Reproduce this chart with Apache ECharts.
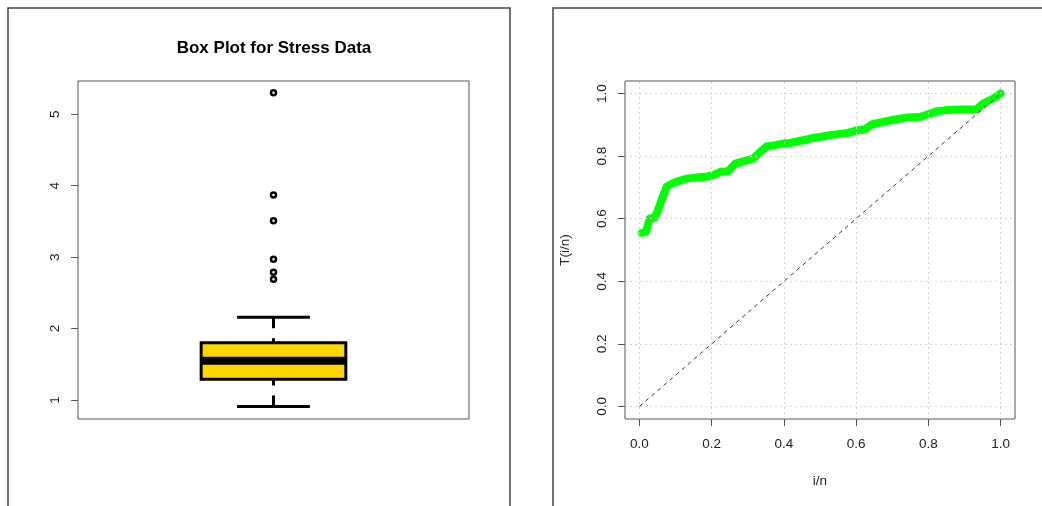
<!DOCTYPE html>
<html>
<head>
<meta charset="utf-8">
<script src="https://cdn.jsdelivr.net/npm/echarts@6/dist/echarts.min.js"></script>
<style>
  html, body { margin: 0; padding: 0; background: #fff; }
  #chart-panel { width: 1042px; height: 506px; }
</style>
</head>
<body>
<div id="chart-panel"></div>
<script>
// box plot: stress data summary (min, q1, median, q3, max) and outliers
var boxStats = [0.91, 1.29, 1.55, 1.80, 2.16];
var outliers = [2.69, 2.79, 2.97, 3.51, 3.87, 5.30];
var boxTicks = [1, 2, 3, 4, 5];

// TTT plot: i/n and T(i/n)
var tttX = [0.007, 0.018, 0.028, 0.043, 0.055, 0.065, 0.076, 0.094, 0.113, 0.131,
            0.159, 0.177, 0.205, 0.223, 0.246, 0.265, 0.288, 0.315, 0.334, 0.352,
            0.375, 0.398, 0.417, 0.463, 0.482, 0.500, 0.528, 0.555, 0.578, 0.601,
            0.625, 0.643, 0.675, 0.712, 0.740, 0.777, 0.797, 0.823, 0.851, 0.887,
            0.934, 0.952, 0.980, 1.000];
var tttY = [0.555, 0.558, 0.600, 0.604, 0.639, 0.672, 0.703, 0.714, 0.722, 0.728,
            0.732, 0.733, 0.739, 0.749, 0.752, 0.776, 0.783, 0.792, 0.813, 0.831,
            0.835, 0.840, 0.842, 0.853, 0.858, 0.861, 0.867, 0.871, 0.874, 0.882,
            0.886, 0.901, 0.909, 0.918, 0.923, 0.925, 0.933, 0.943, 0.947, 0.949,
            0.950, 0.968, 0.984, 1.000];
var refX = [0, 1];
var refY = [0, 1];
var tttTicks = [0, 0.2, 0.4, 0.6, 0.8, 1.0];

var font = 'Liberation Sans, Arial, sans-serif';

var tttData = tttX.map(function (x, i) { return [x, tttY[i]]; });
var refData = refX.map(function (x, i) { return [x, refY[i]]; });

function renderBox(params, api) {
    var x = api.value(0);
    var lo = api.value(1), q1 = api.value(2), med = api.value(3), q3 = api.value(4), hi = api.value(5);
    var bw = 0.185, cw = 0.093;
    var p = function (a, b) { return api.coord([a, b]); };
    var tl = p(x - bw, q3), br = p(x + bw, q1);
    var dash = { stroke: '#000', lineWidth: 3, lineDash: [11, 10] };
    var solid = { stroke: '#000', lineWidth: 3 };
    return {
        type: 'group',
        children: [
            { type: 'line', shape: { x1: p(x, hi)[0], y1: p(x, hi)[1], x2: p(x, q3)[0], y2: p(x, q3)[1] }, style: dash },
            { type: 'line', shape: { x1: p(x, lo)[0], y1: p(x, lo)[1], x2: p(x, q1)[0], y2: p(x, q1)[1] }, style: dash },
            { type: 'line', shape: { x1: p(x - cw, hi)[0], y1: p(x, hi)[1], x2: p(x + cw, hi)[0], y2: p(x, hi)[1] }, style: solid },
            { type: 'line', shape: { x1: p(x - cw, lo)[0], y1: p(x, lo)[1], x2: p(x + cw, lo)[0], y2: p(x, lo)[1] }, style: solid },
            { type: 'rect', shape: { x: tl[0], y: tl[1], width: br[0] - tl[0], height: br[1] - tl[1] },
              style: { fill: '#FFD700', stroke: '#000', lineWidth: 3 } },
            { type: 'line', shape: { x1: tl[0] + 1, y1: p(x, med)[1], x2: br[0] - 1, y2: p(x, med)[1] },
              style: { stroke: '#000', lineWidth: 8 } }
        ]
    };
}

var labelStyle = { fontFamily: font, fontSize: 13.5, color: '#222' };

option = {
    animation: false,
    backgroundColor: '#fff',
    graphic: [
        { type: 'rect', shape: { x: 8, y: 8, width: 502, height: 600 }, style: { fill: null, stroke: '#444', lineWidth: 1.5 }, silent: true },
        { type: 'rect', shape: { x: 553, y: 8, width: 600, height: 600 }, style: { fill: null, stroke: '#444', lineWidth: 1.5 }, silent: true },
        { type: 'text', x: 274, y: 48, silent: true,
          style: { text: 'Box Plot for Stress Data', fill: '#000', align: 'center', verticalAlign: 'middle',
                   font: 'bold 17px Liberation Sans, Arial, sans-serif' } }
    ],
    grid: [
        { left: 78, top: 81, width: 391, height: 338, show: true, borderColor: '#555', borderWidth: 1 },
        { left: 625, top: 81, width: 390, height: 338, show: true, borderColor: '#555', borderWidth: 1 }
    ],
    xAxis: [{
        type: 'value', gridIndex: 0, min: 0.5, max: 1.5,
        axisLine: { show: false, onZero: false }, axisTick: { show: false }, axisLabel: { show: false }, splitLine: { show: false }
    }, {
        type: 'value', gridIndex: 1, min: -0.04, max: 1.04,
        name: 'i/n', nameLocation: 'middle', nameGap: 55,
        nameTextStyle: { fontFamily: font, fontSize: 13.5, color: '#222' },
        axisLine: { show: false, onZero: false },
        axisTick: { show: true, customValues: tttTicks, length: 7, lineStyle: { color: '#555' } },
        axisLabel: Object.assign({ customValues: tttTicks, margin: 18, formatter: function (v) { return v.toFixed(1); } }, labelStyle),
        splitLine: { show: false }
    }],
    yAxis: [{
        type: 'value', gridIndex: 0, min: 0.734, max: 5.466,
        axisLine: { show: false, onZero: false },
        axisTick: { show: true, customValues: boxTicks, length: 7, lineStyle: { color: '#555' } },
        axisLabel: Object.assign({ customValues: boxTicks, rotate: 90, margin: 16 }, labelStyle),
        splitLine: { show: false }
    }, {
        type: 'value', gridIndex: 1, min: -0.04, max: 1.04,
        name: 'T(i/n)', nameLocation: 'middle', nameGap: 53,
        nameTextStyle: { fontFamily: font, fontSize: 13.5, color: '#222' },
        axisLine: { show: false, onZero: false },
        axisTick: { show: true, customValues: tttTicks, length: 7, lineStyle: { color: '#555' } },
        axisLabel: Object.assign({ customValues: tttTicks, rotate: 90, margin: 16, formatter: function (v) { return v.toFixed(1); } }, labelStyle),
        splitLine: { show: false }
    }],
    series: [{
        type: 'custom',
        xAxisIndex: 0, yAxisIndex: 0,
        renderItem: renderBox,
        encode: { x: 0, y: [1, 2, 3, 4, 5] },
        data: [[1].concat(boxStats)],
        z: 2
    }, {
        type: 'scatter',
        xAxisIndex: 0, yAxisIndex: 0,
        symbol: 'circle',
        symbolSize: 5,
        itemStyle: { color: '#fff', borderColor: '#000', borderWidth: 2.5, opacity: 1 },
        data: outliers.map(function (v) { return [1, v]; }),
        z: 3
    }, {
        // dotted grid, drawn under the curves
        type: 'line',
        xAxisIndex: 1, yAxisIndex: 1,
        data: refData,
        showSymbol: false,
        lineStyle: { opacity: 0 },
        z: 1,
        markLine: {
            silent: true,
            symbol: 'none',
            label: { show: false },
            lineStyle: { color: '#d3d3d3', width: 1, type: [2, 3] },
            data: tttTicks.map(function (v) { return { xAxis: v }; })
                .concat(tttTicks.map(function (v) { return { yAxis: v }; }))
        }
    }, {
        type: 'line',
        xAxisIndex: 1, yAxisIndex: 1,
        data: tttData,
        showSymbol: false,
        lineStyle: { color: '#00ff00', width: 8, cap: 'round', join: 'round' },
        z: 3
    }, {
        type: 'line',
        xAxisIndex: 1, yAxisIndex: 1,
        data: refData,
        showSymbol: false,
        lineStyle: { color: '#333', width: 1, type: [4, 4] },
        z: 4
    }]
};

var myChart = echarts.init(document.getElementById('chart-panel'));
myChart.setOption(option);
</script>
</body>
</html>
